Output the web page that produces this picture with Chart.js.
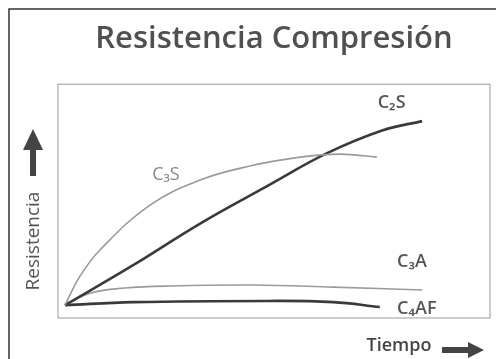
<!DOCTYPE html>
<html>
<head>
<meta charset="utf-8">
<script src="https://cdn.jsdelivr.net/npm/chart.js@4.4.0/dist/chart.umd.min.js"></script>
<style>
  html, body { margin: 0; padding: 0; background: #fff; }
  #wrap { width: 496px; height: 359px; }
</style>
</head>
<body>
<div id="wrap"><canvas id="chart"></canvas></div>
<script>
// values (time and strength on a 0-100 scale)
var c3sTime = [1.6, 5.1, 9.7, 21.3, 32.9, 44.4, 56.0, 65.3, 73.8];
var c3sStrength = [5.5, 17.9, 29.1, 48.3, 59.0, 65.0, 68.8, 70.1, 68.8];

var c2sTime = [1.6, 17.4, 32.9, 48.4, 62.3, 75.2, 84.3];
var c2sStrength = [5.5, 22.6, 40.4, 56.4, 70.5, 80.3, 84.2];

var c3aTime = [1.6, 7.6, 15.5, 25.9, 45.1, 63.7, 84.3];
var c3aStrength = [5.5, 10.7, 12.8, 13.7, 14.1, 13.2, 12.0];

var c4afTime = [1.6, 17.4, 48.4, 63.7, 74.5];
var c4afStrength = [5.5, 6.8, 7.3, 6.8, 4.7];

function points(xs, ys) {
    return xs.map(function (x, i) { return { x: x, y: ys[i] }; });
}

// curve labels, placed in data units
var curveLabels = [
    { text: "C\u2082S", x: 74.0, y: 92.0, color: "#555", weight: "600" },
    { text: "C\u2083S", x: 21.8, y: 61.3, color: "#888", weight: "normal" },
    { text: "C\u2083A", x: 78.5, y: 24.0, color: "#555", weight: "600" },
    { text: "C\u2084AF", x: 78.5, y: 3.8, color: "#555", weight: "600" }
];

var decorations = {
    id: "decorations",
    afterDraw: function (chart) {
        var ctx = chart.ctx;
        var a = chart.chartArea;
        var xs = chart.scales.x, ys = chart.scales.y;
        ctx.save();

        // outer frame of the slide
        ctx.strokeStyle = "#333";
        ctx.lineWidth = 1.5;
        ctx.beginPath();
        ctx.moveTo(9, 359);
        ctx.lineTo(9, 9);
        ctx.lineTo(496, 9);
        ctx.stroke();

        // plot box
        ctx.strokeStyle = "#999";
        ctx.lineWidth = 1;
        ctx.strokeRect(a.left, a.top, a.right - a.left, a.bottom - a.top);

        // curve labels
        ctx.textAlign = "left";
        ctx.textBaseline = "middle";
        curveLabels.forEach(function (l) {
            ctx.font = l.weight + " 18px 'Open Sans'";
            ctx.fillStyle = l.color;
            ctx.fillText(l.text, xs.getPixelForValue(l.x), ys.getPixelForValue(l.y));
        });

        // y axis title and arrow
        ctx.fillStyle = "#555";
        ctx.save();
        ctx.translate(34, 241);
        ctx.rotate(-Math.PI / 2);
        ctx.textAlign = "center";
        ctx.font = "19px 'Open Sans'";
        ctx.fillText("Resistencia", 0, 0);
        ctx.restore();

        ctx.fillStyle = "#444";
        ctx.fillRect(30, 148, 6, 28);
        ctx.beginPath();
        ctx.moveTo(33, 129);
        ctx.lineTo(43, 150);
        ctx.lineTo(23, 150);
        ctx.closePath();
        ctx.fill();

        // x axis title and arrow
        ctx.fillStyle = "#444";
        ctx.textAlign = "center";
        ctx.font = "600 18px 'Open Sans'";
        ctx.fillText("Tiempo", 399, 346);

        ctx.fillRect(442, 347, 30, 6);
        ctx.beginPath();
        ctx.moveTo(484, 350);
        ctx.lineTo(468, 342);
        ctx.lineTo(468, 358);
        ctx.closePath();
        ctx.fill();

        ctx.restore();
    }
};

new Chart(document.getElementById("chart"), {
    type: "line",
    data: {
        datasets: [
            {
                label: "C3S",
                data: points(c3sTime, c3sStrength),
                borderColor: "#9a9a9a",
                borderWidth: 1.6
            },
            {
                label: "C2S",
                data: points(c2sTime, c2sStrength),
                borderColor: "#3a3a3a",
                borderWidth: 2.6
            },
            {
                label: "C3A",
                data: points(c3aTime, c3aStrength),
                borderColor: "#9a9a9a",
                borderWidth: 1.6
            },
            {
                label: "C4AF",
                data: points(c4afTime, c4afStrength),
                borderColor: "#3a3a3a",
                borderWidth: 2.6
            }
        ]
    },
    options: {
        responsive: true,
        maintainAspectRatio: false,
        animation: false,
        elements: {
            point: { radius: 0 },
            line: { tension: 0.4, fill: false }
        },
        layout: {
            padding: { left: 58, right: 6, top: 0, bottom: 41 }
        },
        scales: {
            x: { type: "linear", min: 0, max: 100, display: false },
            y: { type: "linear", min: 0, max: 100, display: false }
        },
        plugins: {
            legend: { display: false },
            tooltip: { enabled: false },
            title: {
                display: true,
                text: "Resistencia Compresi\u00f3n",
                color: "#505050",
                font: { family: "'Open Sans'", size: 31, weight: "600" },
                padding: { top: 21, bottom: 26 }
            }
        }
    },
    plugins: [decorations]
});
</script>
</body>
</html>
